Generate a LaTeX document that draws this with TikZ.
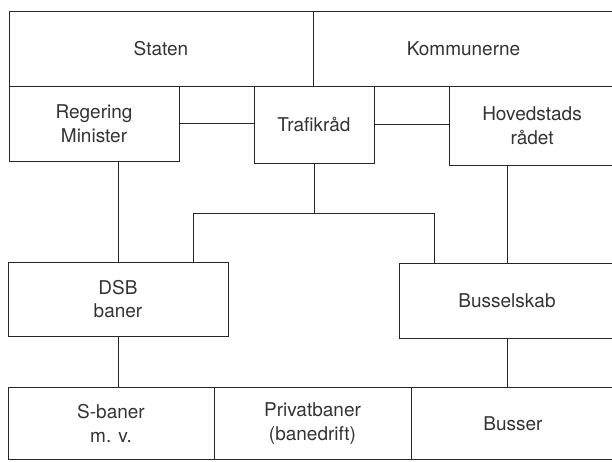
\documentclass[tikz,border=0pt]{standalone}
\usepackage{fontspec}
\setmainfont{TeX Gyre Heros}
\usepackage{xcolor}
\usepackage{tikz}
\usetikzlibrary{positioning}

\begin{document}
\begin{tikzpicture}[
  x=1pt, y=-1pt,
  org/.style={draw=black!85, line width=1pt, inner sep=0pt, align=center, text=black!80, font=\fontsize{19}{23.5}\selectfont},
  link/.style={line width=1pt, draw=black!85}
]
\useasboundingbox (0,0) rectangle (612,461);
\clip (0,0) rectangle (612,461);

\node[org, minimum width=304pt, minimum height=75pt] (staten) at (161,48.5) {Staten};
\node[org, minimum width=301pt, minimum height=75pt] (kommuner) at (463.5,48.5) {Kommunerne};

\node[org, minimum width=170pt, minimum height=75pt] (regering) at (94,123.5) {Regering\\Minister};
\node[org, minimum width=120pt, minimum height=77pt] (trafik) at (314,124.5) {Trafikråd};
\node[org, minimum width=166pt, minimum height=79pt] (hoved) at (532,125.5) {Hovedstads\\rådet};

\node[org, minimum width=220pt, minimum height=74pt] (dsb) at (118,299) {DSB\\baner};
\node[org, minimum width=216pt, minimum height=75pt] (bus) at (507,300.5) {Busselskab};

\node[org, minimum width=206pt, minimum height=72pt] (sbaner) at (111,423.5) {S-baner\\m. v.};
\node[org, minimum width=197pt, minimum height=72pt] (privat) at (312.5,423.5) {Privatbaner\\(banedrift)};
\node[org, minimum width=204pt, minimum height=72pt] (busser) at (513,423.5) {Busser};

\coordinate (split) at ([yshift=-50pt]trafik.south);
\coordinate (dsbtap) at ([xshift=75pt]dsb.north);
\coordinate (bustap) at ([xshift=-73pt]bus.north);

\draw[link] (regering.east) -- (regering.east -| trafik.west);
\draw[link] (trafik.east) -- (trafik.east -| hoved.west);
\draw[link] (dsb.north) -- (dsb.north |- regering.south);
\draw[link] (bus.north) -- (bus.north |- hoved.south);
\draw[link] (trafik.south) -- (split);
\draw[link] (dsbtap) |- (split) -| (bustap);
\draw[link] (dsb.south) -- (dsb.south |- sbaner.north);
\draw[link] (bus.south) -- (bus.south |- busser.north);
\end{tikzpicture}
\end{document}
